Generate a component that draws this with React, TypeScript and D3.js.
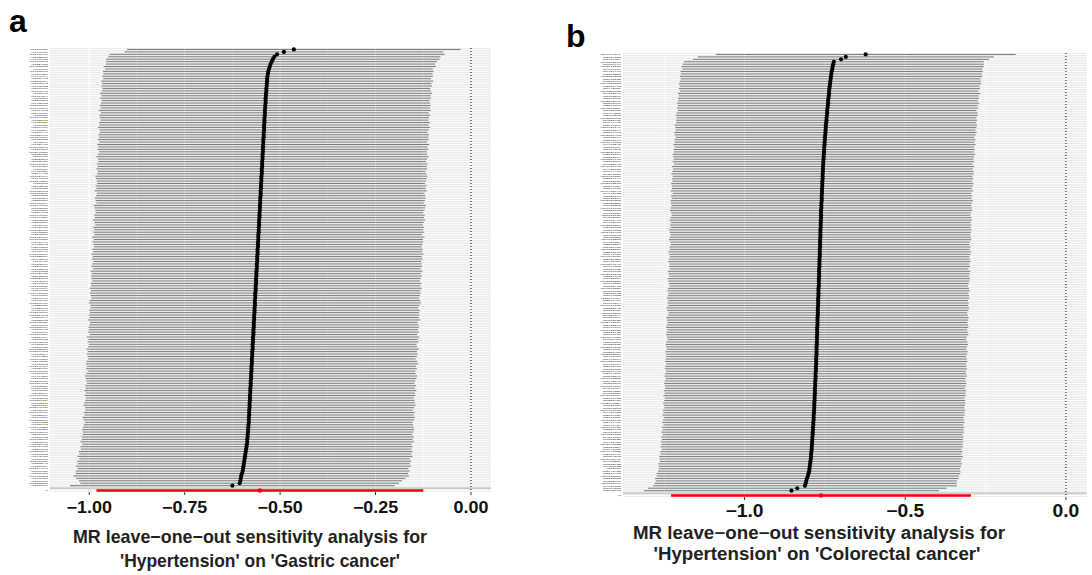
import React from "react"
import * as d3 from "d3"

// ---- panel a : Hypertension -> Gastric cancer ----
const snpsA = `rs11191580 rs4409766 rs12413409 rs2782980 rs7076938 rs11191548 rs3824755 rs10883832 rs943037 rs17115100
rs1801253 rs4646994 rs2681472 rs11105354 rs1378942 rs6495122 rs1173771 rs1799945 rs653178 rs3184504
rs805303 rs2271293 rs1458038 rs11953630 rs17477177 rs3774372 rs2493134 rs880315 rs13107325 rs6825911
rs7129220 rs633185 rs2004776 rs4373814 rs1530440 rs10850411 rs17249754 rs1327235 rs932764 rs7726475
rs16998073 rs1813353 rs12940887 rs1887320 rs319690 rs2521501 rs6015450 rs10760117 rs6779380 rs751984
rs4387287 rs2014408 rs11024074 rs3741378 rs12243859 rs381815 rs2932538 rs1275988 rs17080102 rs13082711
rs9810888 rs1450271 rs2586886 rs17367504 rs10943605 rs7302981 rs4590817 rs2594992 rs10741657 rs11066280
rs8068318 rs2291897 rs6711736 rs1620668 rs17428471 rs3918226 rs2898290 rs12627651 rs10077885 rs6919440
rs4728142 rs2071518 rs1009358 rs7437940 rs13139571 rs11222084 rs6442101 rs740406 rs9268977 rs2240736
rs3735533 rs1371182 rs10926988 rs8032315 rs12521868 rs7248104 rs2470893 rs11977526 rs4247374 rs1563788
rs10418305 rs6797587 rs2969070 rs7406910 rs12656497 rs1887321 rs3820068 rs4684847 rs12705390 rs10224002
rs6891344 rs2385162 rs11658329 rs9349379 rs16833934 rs7500448 rs1173766 rs13359291 rs2184104 rs9892932
rs17638167 rs4851570 rs1800795 rs10182181 rs12579302 rs6568244 rs3794251 rs11646213 rs2643826 rs7961152
rs12946454 rs1126930 rs10995311 rs6557876 rs4494250 rs2377268 rs12801636 rs10894192 rs7151887 rs1894720
rs9337951 rs2315004 rs17010957 rs6108168 rs11556924 rs4932373 rs2169137 rs12041331 rs8078051 rs10491966
rs7522034 rs3749237 rs12805061 rs6763222 rs1050362 rs11749255 rs4680281 rs17608766 rs2953306 rs7800062
rs10052917 rs1565363 rs6926018 rs12454712 rs2839312 rs13230509 rs7896518 rs1048483 rs4601790 rs11615989
rs2252641 rs9815354 rs12144041 rs6969780 rs3760381 rs10489202 rs1799983 rs7070797 rs13238550 rs5751876`.split(/\s+/)

const betaA = [
  -0.464, -0.490, -0.508, -0.515, -0.519, -0.522, -0.525, -0.527, -0.529, -0.531,
  -0.532, -0.533, -0.534, -0.534, -0.535, -0.535, -0.536, -0.536, -0.537, -0.537,
  -0.538, -0.538, -0.538, -0.539, -0.539, -0.540, -0.540, -0.540, -0.541, -0.541,
  -0.541, -0.542, -0.542, -0.542, -0.543, -0.543, -0.543, -0.544, -0.544, -0.544,
  -0.545, -0.545, -0.545, -0.546, -0.546, -0.546, -0.547, -0.547, -0.547, -0.548,
  -0.548, -0.548, -0.549, -0.549, -0.549, -0.550, -0.550, -0.550, -0.551, -0.551,
  -0.551, -0.552, -0.552, -0.552, -0.553, -0.553, -0.553, -0.554, -0.554, -0.554,
  -0.555, -0.555, -0.555, -0.556, -0.556, -0.556, -0.557, -0.557, -0.557, -0.558,
  -0.558, -0.558, -0.559, -0.559, -0.559, -0.560, -0.560, -0.560, -0.561, -0.561,
  -0.561, -0.562, -0.562, -0.562, -0.563, -0.563, -0.563, -0.564, -0.564, -0.564,
  -0.565, -0.565, -0.565, -0.566, -0.566, -0.566, -0.567, -0.567, -0.567, -0.568,
  -0.568, -0.568, -0.569, -0.569, -0.569, -0.570, -0.570, -0.570, -0.571, -0.571,
  -0.571, -0.572, -0.572, -0.572, -0.573, -0.573, -0.573, -0.574, -0.574, -0.574,
  -0.575, -0.575, -0.575, -0.576, -0.576, -0.576, -0.577, -0.577, -0.577, -0.578,
  -0.578, -0.578, -0.579, -0.579, -0.579, -0.580, -0.580, -0.580, -0.581, -0.581,
  -0.581, -0.582, -0.582, -0.582, -0.583, -0.583, -0.584, -0.584, -0.585, -0.585,
  -0.586, -0.586, -0.587, -0.588, -0.589, -0.590, -0.591, -0.592, -0.593, -0.594,
  -0.595, -0.596, -0.597, -0.598, -0.600, -0.602, -0.603, -0.604, -0.606, -0.625,
]

const seA = [
  0.223, 0.213, 0.224, 0.222, 0.223, 0.221, 0.220, 0.222, 0.219, 0.221,
  0.220, 0.221, 0.219, 0.222, 0.220, 0.221, 0.219, 0.220, 0.222, 0.220,
  0.221, 0.219, 0.220, 0.221, 0.220, 0.222, 0.219, 0.221, 0.220, 0.219,
  0.221, 0.220, 0.222, 0.220, 0.219, 0.221, 0.220, 0.221, 0.219, 0.222,
  0.220, 0.221, 0.219, 0.220, 0.222, 0.220, 0.219, 0.221, 0.220, 0.221,
  0.219, 0.220, 0.222, 0.221, 0.220, 0.219, 0.221, 0.220, 0.222, 0.219,
  0.220, 0.221, 0.220, 0.219, 0.222, 0.221, 0.220, 0.219, 0.221, 0.220,
  0.222, 0.220, 0.219, 0.221, 0.220, 0.221, 0.219, 0.222, 0.220, 0.221,
  0.220, 0.219, 0.221, 0.220, 0.222, 0.220, 0.221, 0.219, 0.220, 0.221,
  0.219, 0.222, 0.220, 0.221, 0.220, 0.219, 0.221, 0.220, 0.222, 0.220,
  0.221, 0.220, 0.219, 0.221, 0.222, 0.220, 0.219, 0.221, 0.220, 0.221,
  0.220, 0.222, 0.219, 0.220, 0.221, 0.220, 0.221, 0.219, 0.222, 0.220,
  0.221, 0.219, 0.220, 0.222, 0.220, 0.221, 0.220, 0.219, 0.221, 0.222,
  0.220, 0.221, 0.219, 0.220, 0.222, 0.221, 0.220, 0.219, 0.221, 0.220,
  0.222, 0.220, 0.221, 0.219, 0.220, 0.221, 0.222, 0.220, 0.219, 0.221,
  0.220, 0.222, 0.221, 0.219, 0.220, 0.221, 0.222, 0.221, 0.220, 0.222,
  0.221, 0.223, 0.220, 0.222, 0.221, 0.223, 0.222, 0.224, 0.221, 0.223,
  0.222, 0.224, 0.221, 0.223, 0.222, 0.224, 0.220, 0.216, 0.213, 0.217,
]

const allBetaA = -0.553
const allSeA = 0.2184
const ticksA = [-1, -0.75, -0.5, -0.25, 0]
const tickLabelsA = ["\u22121.00", "\u22120.75", "\u22120.50", "\u22120.25", "0.00"]
const titleA = ["MR leave\u2212one\u2212out sensitivity analysis for", "'Hypertension' on 'Gastric cancer'"]

// ---- panel b : Hypertension -> Colorectal cancer ----
const snpsB = `rs10474346 rs2024385 rs7776054 rs11593576 rs1689040 rs13012130 rs4969184 rs9424977 rs2898305 rs12117213
rs3918138 rs7598470 rs10757278 rs2681492 rs6442089 rs11257655 rs4773147 rs1052501 rs8107211 rs13263019
rs6565060 rs2807834 rs10500309 rs7012637 rs1994251 rs3098242 rs12887008 rs4821980 rs9649465 rs2076260
rs11039149 rs1878344 rs7817413 rs13086405 rs6061844 rs2595104 rs10946808 rs4408545 rs1155009 rs8104268
rs12539160 rs3812316 rs7315574 rs10859995 rs2298807 rs6722745 rs17030613 rs4985155 rs1004467 rs9397520
rs11710337 rs2854746 rs7633726 rs13002573 rs6507624 rs1346786 rs10418046 rs4745982 rs2736100 rs8015297
rs12656205 rs3731211 rs7911302 rs10171703 rs2236512 rs6787229 rs11153730 rs4843650 rs1901440 rs9473924
rs12358261 rs2430683 rs7200153 rs13420463 rs6488162 rs1912826 rs10113208 rs4454254 rs2303369 rs8129980
rs11722554 rs3802177 rs7741021 rs10798036 rs2627331 rs6911024 rs17249141 rs4664308 rs1156725 rs9687065
rs12627513 rs3814113 rs7135659 rs13333226 rs6690215 rs1581972 rs10865331 rs4760785 rs2188962 rs8177853
rs11191454 rs2599407 rs7691194 rs10010131 rs2231142 rs6832439 rs11898505 rs4336844 rs1887199 rs9372625
rs12413624 rs3135506 rs7916697 rs10423928 rs2131925 rs6601627 rs11590926 rs4656461 rs1168066 rs9329221
rs12204575 rs2807071 rs7350481 rs13233571 rs6457617 rs1408799 rs10830963 rs4917014 rs2075650 rs8050136
rs11867479 rs3764261 rs7578597 rs10195252 rs2943641 rs6589566 rs11206510 rs4846914 rs1260326 rs9987289
rs12678919 rs3177928 rs7255436 rs13107324 rs6511720 rs1800562 rs10401969 rs4420638 rs2954029 rs8017377
rs11065987 rs2479409 rs7640424 rs10761731 rs2286963 rs6700896 rs11229252 rs4299376 rs1883025 rs9411489
rs12748152 rs3757354 rs7941030 rs10947332 rs2000999 rs6754295 rs11668477 rs4983559 rs1532085 rs9488822
rs12916 rs2642438 rs7819412 rs10128711 rs2328223 rs6882076 rs11136000 rs4939883 rs1169288 rs5763662`.split(/\s+/)

const betaB = [
  -0.623, -0.685, -0.700, -0.722, -0.724, -0.726, -0.727, -0.729, -0.730, -0.731,
  -0.732, -0.733, -0.734, -0.735, -0.736, -0.737, -0.737, -0.738, -0.739, -0.740,
  -0.740, -0.741, -0.742, -0.743, -0.743, -0.744, -0.745, -0.745, -0.746, -0.747,
  -0.747, -0.748, -0.748, -0.749, -0.750, -0.750, -0.751, -0.751, -0.752, -0.752,
  -0.753, -0.753, -0.754, -0.754, -0.755, -0.755, -0.756, -0.756, -0.756, -0.757,
  -0.757, -0.757, -0.758, -0.758, -0.758, -0.759, -0.759, -0.759, -0.760, -0.760,
  -0.760, -0.761, -0.761, -0.761, -0.762, -0.762, -0.762, -0.762, -0.763, -0.763,
  -0.763, -0.763, -0.764, -0.764, -0.764, -0.764, -0.765, -0.765, -0.765, -0.765,
  -0.766, -0.766, -0.766, -0.766, -0.767, -0.767, -0.767, -0.767, -0.768, -0.768,
  -0.768, -0.768, -0.769, -0.769, -0.769, -0.769, -0.770, -0.770, -0.770, -0.770,
  -0.771, -0.771, -0.771, -0.771, -0.772, -0.772, -0.772, -0.772, -0.773, -0.773,
  -0.773, -0.773, -0.774, -0.774, -0.774, -0.774, -0.775, -0.775, -0.775, -0.775,
  -0.776, -0.776, -0.776, -0.776, -0.777, -0.777, -0.777, -0.777, -0.778, -0.778,
  -0.778, -0.779, -0.779, -0.779, -0.780, -0.780, -0.780, -0.781, -0.781, -0.781,
  -0.782, -0.782, -0.782, -0.783, -0.783, -0.783, -0.784, -0.784, -0.785, -0.785,
  -0.785, -0.786, -0.786, -0.787, -0.787, -0.788, -0.788, -0.789, -0.789, -0.790,
  -0.790, -0.791, -0.791, -0.792, -0.793, -0.793, -0.794, -0.795, -0.796, -0.797,
  -0.798, -0.799, -0.801, -0.803, -0.806, -0.808, -0.810, -0.812, -0.836, -0.854,
]

const seB = [
  0.238, 0.235, 0.235, 0.238, 0.239, 0.240, 0.238, 0.240, 0.239, 0.240,
  0.238, 0.239, 0.240, 0.238, 0.239, 0.237, 0.240, 0.238, 0.239, 0.238,
  0.240, 0.238, 0.239, 0.237, 0.239, 0.240, 0.238, 0.239, 0.238, 0.240,
  0.239, 0.238, 0.240, 0.239, 0.237, 0.239, 0.238, 0.240, 0.238, 0.239,
  0.238, 0.240, 0.239, 0.238, 0.239, 0.237, 0.240, 0.238, 0.239, 0.240,
  0.238, 0.239, 0.238, 0.240, 0.239, 0.238, 0.240, 0.237, 0.239, 0.238,
  0.240, 0.239, 0.238, 0.239, 0.240, 0.238, 0.237, 0.239, 0.240, 0.238,
  0.239, 0.238, 0.240, 0.239, 0.238, 0.239, 0.240, 0.238, 0.237, 0.239,
  0.238, 0.240, 0.239, 0.238, 0.239, 0.240, 0.238, 0.239, 0.237, 0.240,
  0.239, 0.238, 0.240, 0.239, 0.238, 0.237, 0.239, 0.240, 0.238, 0.239,
  0.240, 0.238, 0.239, 0.238, 0.240, 0.239, 0.237, 0.238, 0.240, 0.239,
  0.238, 0.239, 0.240, 0.238, 0.239, 0.240, 0.238, 0.237, 0.239, 0.240,
  0.239, 0.238, 0.240, 0.239, 0.238, 0.239, 0.240, 0.238, 0.239, 0.240,
  0.238, 0.239, 0.240, 0.238, 0.239, 0.240, 0.239, 0.238, 0.240, 0.239,
  0.240, 0.238, 0.239, 0.240, 0.239, 0.238, 0.240, 0.239, 0.240, 0.238,
  0.239, 0.240, 0.238, 0.240, 0.239, 0.240, 0.238, 0.240, 0.239, 0.240,
  0.239, 0.240, 0.238, 0.240, 0.239, 0.241, 0.240, 0.239, 0.241, 0.240,
  0.239, 0.240, 0.241, 0.240, 0.241, 0.239, 0.240, 0.241, 0.237, 0.234,
]

const allBetaB = -0.762
const allSeB = 0.238
const ticksB = [-1, -0.5, 0]
const tickLabelsB = ["\u22121.0", "\u22120.5", "0.0"]
const titleB = ["MR leave\u2212one\u2212out sensitivity analysis for", "'Hypertension' on 'Colorectal cancer'"]

const FONT = "'Liberation Sans', Arial, Helvetica, sans-serif"

function Panel(p: any) {
  const rows = p.snps.map((id: string, i: number) => ({
    id, b: p.beta[i], lo: p.beta[i] - 1.96 * p.se[i], up: p.beta[i] + 1.96 * p.se[i],
  }))
  const all = { id: "All", b: p.allBeta, lo: p.allBeta - 1.96 * p.allSe, up: p.allBeta + 1.96 * p.allSe }
  const levels = [...p.snps, "", "All"]

  // ggplot style: data range (incl. the 0 line) + 5% on each side
  const lo = Math.min(d3.min(rows, (d: any) => d.lo) as number, all.lo)
  const hi = Math.max(d3.max(rows, (d: any) => d.up) as number, 0)
  const ext = (hi - lo) * 0.05
  const x = d3.scaleLinear().domain([lo - ext, hi + ext]).range([p.x0, p.x1])
  const y = d3.scalePoint<string>().domain(levels).range([p.y0, p.y1]).padding(0.6)

  const [dmin, dmax] = x.domain()
  const step = p.ticks[1] - p.ticks[0]
  const minor = [p.ticks[0] - step / 2, ...p.ticks.map((t: number) => t + step / 2)]
    .filter((t: number) => t > dmin && t < dmax)

  return (
    <g fontFamily={FONT}>
      <rect x={p.x0} y={p.y0} width={p.x1 - p.x0} height={p.y1 - p.y0} fill="#ebebeb" />
      {minor.map((t: number) => (
        <line key={"mi" + t} x1={x(t)} x2={x(t)} y1={p.y0} y2={p.y1} stroke="#fff" strokeWidth={0.55} />
      ))}
      {levels.map((l, i) => (
        <line key={"hg" + i} x1={p.x0} x2={p.x1} y1={y(l)} y2={y(l)} stroke="#fff" strokeWidth={0.9} />
      ))}
      {p.ticks.map((t: number) => (
        <line key={"ma" + t} x1={x(t)} x2={x(t)} y1={p.y0} y2={p.y1} stroke="#fff" strokeWidth={1.1} />
      ))}
      <line x1={x(0)} x2={x(0)} y1={p.y0} y2={p.y1} stroke="#000" strokeWidth={1} strokeDasharray="1,2" />
      {rows.map((d: any) => (
        <line key={"eb" + d.id} x1={x(d.lo)} x2={x(d.up)} y1={y(d.id)} y2={y(d.id)} stroke="#2a2a2a" strokeWidth={0.62} />
      ))}
      <line x1={x(all.lo)} x2={x(all.up)} y1={y("All")} y2={y("All")} stroke="#ff0000" strokeWidth={2.4} />
      <line x1={p.x0} x2={p.x1} y1={y("")} y2={y("")} stroke="#bebebe" strokeWidth={1.1} />
      {rows.map((d: any) => (
        <circle key={"pt" + d.id} cx={x(d.b)} cy={y(d.id)} r={2.1} fill="#000" />
      ))}
      <circle cx={x(all.b)} cy={y("All")} r={2.2} fill="#ff0000" />

      {/* tiny SNP labels: small font, stretched sideways so rows do not collide */}
      {levels.map((l, i) => (
        <text key={"yl" + i} transform={`translate(${p.x0 - 2},${(y(l) as number) + 0.75}) scale(${p.labelSx},1)`}
          fontSize={p.labelSize} textAnchor="end" fill="#333">{l}</text>
      ))}

      {p.ticks.map((t: number, i: number) => (
        <g key={"tk" + t}>
          <line x1={x(t)} x2={x(t)} y1={p.y1} y2={p.y1 + 3} stroke="#333" strokeWidth={1} />
          <text transform={`translate(${x(t)},${p.tickY}) scale(${p.tickSx},1)`} textAnchor="middle"
            fontSize={p.tickSize} fontWeight="bold" fill="#111">{p.tickLabels[i]}</text>
        </g>
      ))}

      {p.title.map((s: string, i: number) => (
        <text key={"ti" + i} x={p.titleX[i]} y={p.titleY[i]} textAnchor="middle" fontSize={p.titleSize}
          fontWeight="bold" fill="#231f20" textLength={p.titleW[i]} lengthAdjust="spacingAndGlyphs">{s}</text>
      ))}
    </g>
  )
}

export default function App() {
  return (
    <svg width={1092} height={575} style={{ position: "absolute", left: 0, top: 0, background: "#fff" }}>
      <text x={9} y={32} fontFamily={FONT} fontSize={32} fontWeight="bold" fill="#000">a</text>
      <text x={566} y={47} fontFamily={FONT} fontSize={32} fontWeight="bold" fill="#000">b</text>
      <Panel snps={snpsA} beta={betaA} se={seA} allBeta={allBetaA} allSe={allSeA}
        ticks={ticksA} tickLabels={tickLabelsA} title={titleA}
        x0={50} x1={491} y0={48} y1={492} labelSize={2.1} labelSx={1.7}
        tickY={513} tickSize={16} tickSx={1.12}
        titleX={[250, 260]} titleY={[543, 567]} titleSize={18.5} titleW={[354, 280]} />
      <Panel snps={snpsB} beta={betaB} se={seB} allBeta={allBetaB} allSe={allSeB}
        ticks={ticksB} tickLabels={tickLabelsB} title={titleB}
        x0={623} x1={1087} y0={53} y1={497} labelSize={2.1} labelSx={1.85}
        tickY={517} tickSize={17.5} tickSx={1.1}
        titleX={[819, 817]} titleY={[539, 560]} titleSize={17.5} titleW={[372, 327]} />
    </svg>
  )
}
